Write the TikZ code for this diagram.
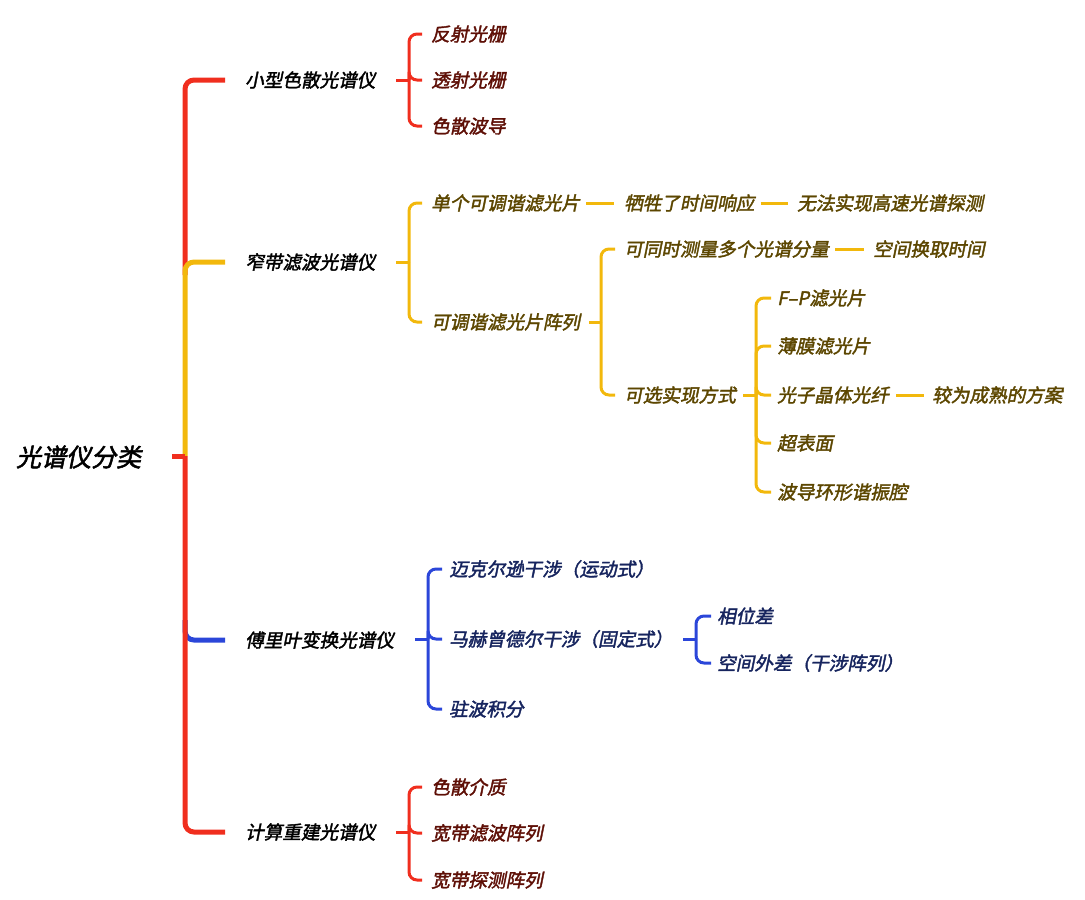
\documentclass[tikz,border=0pt]{standalone}
\usepackage{fontspec}
\newfontfamily\cjk[FakeSlant=0.2,FakeBold=2]{Noto Sans CJK SC}
\definecolor{redL}{HTML}{F02E1E}
\definecolor{goldL}{HTML}{F2B80C}
\definecolor{blueL}{HTML}{2B46D9}
\definecolor{redT}{HTML}{5E0F06}
\definecolor{goldT}{HTML}{5C4600}
\definecolor{blueT}{HTML}{16245E}
\tikzset{
  lbl/.style={anchor=west,inner sep=0pt,font=\cjk\fontsize{18.6}{18.6}\selectfont},
  rootlbl/.style={anchor=west,inner sep=0pt,font=\cjk\fontsize{25}{25}\selectfont},
  rt/.style={lbl,text=redT},
  gt/.style={lbl,text=goldT},
  bt/.style={lbl,text=blueT},
  Lone/.style={line width=5pt,rounded corners=9pt},
  Ltwo/.style={line width=3pt,rounded corners=8pt},
}
\begin{document}
\begin{tikzpicture}[x=1pt,y=-1pt]
\useasboundingbox (0,0) rectangle (1085,900);
% ---------- nodes ----------
\node[rootlbl] (root) at (16,457) {光谱仪分类};
\node[lbl] (n1) at (245,80) {小型色散光谱仪};
\node[lbl] (n2) at (245,262) {窄带滤波光谱仪};
\node[lbl] (n3) at (245,640) {傅里叶变换光谱仪};
\node[lbl] (n4) at (245,832) {计算重建光谱仪};
% red 1
\node[rt] (a1) at (431,34) {反射光栅};
\node[rt] (a2) at (431,80) {透射光栅};
\node[rt] (a3) at (431,126) {色散波导};
% gold
\node[gt] (g1) at (431,203) {单个可调谐滤光片};
\node[gt] (g11) at (624,203) {牺牲了时间响应};
\node[gt] (g12) at (797,203) {无法实现高速光谱探测};
\node[gt] (g2) at (431,322) {可调谐滤光片阵列};
\node[gt] (g21) at (624,249) {可同时测量多个光谱分量};
\node[gt] (g211) at (873,249) {空间换取时间};
\node[gt] (g22) at (624,395) {可选实现方式};
\node[gt] (h1) at (777,298) {F–P滤光片};
\node[gt] (h2) at (777,346) {薄膜滤光片};
\node[gt] (h3) at (777,395) {光子晶体光纤};
\node[gt] (h31) at (932,395) {较为成熟的方案};
\node[gt] (h4) at (777,443) {超表面};
\node[gt] (h5) at (777,492) {波导环形谐振腔};
% blue
\node[bt] (b1) at (449,569) {迈克尔逊干涉（运动式）};
\node[bt] (b2) at (449,639) {马赫曾德尔干涉（固定式）};
\node[bt] (b21) at (717,616) {相位差};
\node[bt] (b22) at (717,663) {空间外差（干涉阵列）};
\node[bt] (b3) at (449,709) {驻波积分};
% red 4
\node[rt] (c1) at (431,787) {色散介质};
\node[rt] (c2) at (431,833) {宽带滤波阵列};
\node[rt] (c3) at (431,880) {宽带探测阵列};
% ---------- coordinates ----------
\coordinate (r0) at (172,456);
\coordinate (rj) at (185,456);
\coordinate (ru) at (185,275);
\coordinate (rd) at (185,620);
\coordinate (s1) at (396,80);  \coordinate (j1) at (409,80);
\coordinate (s2) at (396,262); \coordinate (j2) at (409,262);
\coordinate (s3) at (415,639); \coordinate (j3) at (428,639);
\coordinate (s4) at (396,832); \coordinate (j4) at (409,832);
\coordinate (sg2) at (589,322); \coordinate (jg2) at (601,322);
\coordinate (sg22) at (743,395); \coordinate (jg22) at (756,395);
\coordinate (sb2) at (683,639); \coordinate (jb2) at (696,639);
% ---------- level 1 ----------
\draw[Lone,redL] (ru) |- ([xshift=-20pt]n1.west);
\draw[Lone,goldL] (rj) |- ([xshift=-20pt]n2.west);
\draw[Lone,blueL] (rd) |- ([xshift=-20pt]n3.west);
\draw[Lone,redL] (rj) |- ([xshift=-20pt]n4.west);
\draw[line width=5pt,redL] (r0) -- (rj);
% ---------- red 1 ----------
\draw[Ltwo,redL] (s1) -- (j1);
\foreach \c in {a1,a2,a3} \draw[Ltwo,redL] (j1) |- ([xshift=-9pt]\c.west);
% ---------- gold ----------
\draw[Ltwo,goldL] (s2) -- (j2);
\foreach \c in {g1,g2} \draw[Ltwo,goldL] (j2) |- ([xshift=-9pt]\c.west);
\draw[Ltwo,goldL] ([xshift=6pt]g1.east) -- ([xshift=-10pt]g11.west);
\draw[Ltwo,goldL] ([xshift=6pt]g11.east) -- ([xshift=-9pt]g12.west);
\draw[Ltwo,goldL] (sg2) -- (jg2);
\foreach \c in {g21,g22} \draw[Ltwo,goldL] (jg2) |- ([xshift=-9pt]\c.west);
\draw[Ltwo,goldL] ([xshift=6pt]g21.east) -- ([xshift=-9pt]g211.west);
\draw[Ltwo,goldL] (sg22) -- (jg22);
\foreach \c in {h1,h2,h3,h4,h5} \draw[Ltwo,goldL] (jg22) |- ([xshift=-6pt]\c.west);
\draw[Ltwo,goldL] ([xshift=7pt]h3.east) -- ([xshift=-8pt]h31.west);
% ---------- blue ----------
\draw[Ltwo,blueL] (s3) -- (j3);
\foreach \c in {b1,b2,b3} \draw[Ltwo,blueL] (j3) |- ([xshift=-7pt]\c.west);
\draw[Ltwo,blueL] (sb2) -- (jb2);
\foreach \c in {b21,b22} \draw[Ltwo,blueL] (jb2) |- ([xshift=-6pt]\c.west);
% ---------- red 4 ----------
\draw[Ltwo,redL] (s4) -- (j4);
\foreach \c in {c1,c2,c3} \draw[Ltwo,redL] (j4) |- ([xshift=-9pt]\c.west);
\end{tikzpicture}
\end{document}
